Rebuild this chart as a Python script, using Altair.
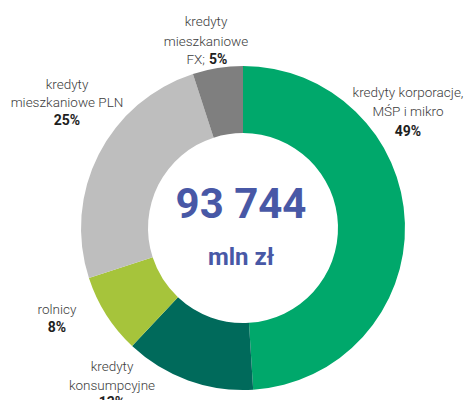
import altair as alt
import pandas as pd

# --- data ---
categories = [
    "kredyty korporacje, MŚP i mikro",
    "kredyty konsumpcyjne",
    "rolnicy",
    "kredyty mieszkaniowe PLN",
    "kredyty mieszkaniowe FX",
]
shares = [49, 13, 8, 25, 5]
colors = ["#00A86B", "#006A5B", "#A6C43B", "#BEBEBE", "#7F7F7F"]
total_value = "93 744"
total_unit = "mln zł"

df = pd.DataFrame({"cat": categories, "share": shares, "idx": list(range(len(categories)))})

LABEL_FONT = "Roboto, sans-serif"
LABEL_COLOR = "#3c3c3c"
PCT_COLOR = "#1e1e1e"

cx, cy = 235, 220

donut = alt.Chart(df).mark_arc(outerRadius=162, innerRadius=95, stroke=None).encode(
    theta=alt.Theta("share:Q", stack=True),
    order=alt.Order("idx:Q"),
    color=alt.Color("cat:N", scale=alt.Scale(domain=categories, range=colors), legend=None),
    x=alt.value(cx),
    y=alt.value(cy),
)


def txt(text, x, y, bold=False, align="center", size=None, color=None, font=LABEL_FONT):
    if size is None:
        size = 14 if bold else 13.5
    return alt.Chart(pd.DataFrame({"t": [text]})).mark_text(
        font=font,
        fontSize=size,
        fontWeight="bold" if bold else 300,
        color=color or (PCT_COLOR if bold else LABEL_COLOR),
        align=align,
        baseline="middle",
    ).encode(text="t:N", x=alt.value(x), y=alt.value(y))


def pct(i):
    return f"{shares[i]}%"


layers = [donut]
# corporate
layers.append(txt("kredyty korporacje,", 400, 85))
layers.append(txt("MŚP i mikro", 400, 104))
layers.append(txt(pct(0), 400, 124, bold=True))
# consumer
layers.append(txt("kredyty", 104, 359))
layers.append(txt("konsumpcyjne", 104, 378))
layers.append(txt(pct(1), 104, 395, bold=True))
# farmers
layers.append(txt("rolnicy", 49, 302))
layers.append(txt(pct(2), 49, 320, bold=True))
# mortgage PLN
layers.append(txt("kredyty", 59, 77))
layers.append(txt("mieszkaniowe PLN", 59, 95))
layers.append(txt(pct(3), 59, 113, bold=True))
# mortgage FX
layers.append(txt("kredyty", 198, 14))
layers.append(txt("mieszkaniowe", 198, 34))
layers.append(txt("FX;", 197, 52, align="right"))
layers.append(txt(pct(4), 201, 52, bold=True, align="left"))
# center
layers.append(txt(total_value, 233, 197, bold=True, size=42, color="#4858A6"))
layers.append(txt(total_unit, 233, 250, bold=True, size=24, color="#4858A6"))

chart = alt.layer(*layers).properties(
    width=460, height=392, autosize=alt.AutoSizeParams(type="none"), padding=0
).configure_view(stroke=None)

chart.save("out.html", embed_options={"renderer": "svg", "actions": False})
